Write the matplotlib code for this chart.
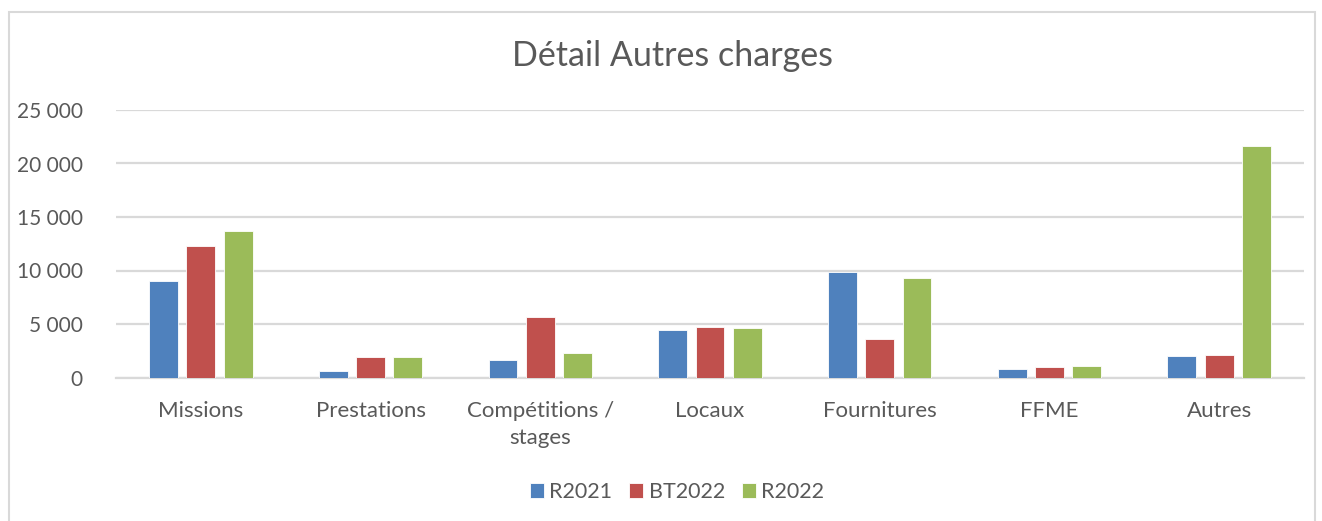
import matplotlib.pyplot as plt
import matplotlib.ticker as mticker
from matplotlib.patches import Rectangle
import numpy as np

# Données
categories = ["Missions", "Prestations", "Compétitions /\nstages", "Locaux",
              "Fournitures", "FFME", "Autres"]
r2021 = [9050, 640, 1640, 4440, 9890, 790, 2010]
bt2022 = [12290, 1890, 5680, 4750, 3570, 950, 2130]
r2022 = [13720, 1890, 2320, 4630, 9270, 1070, 21640]
series_names = ["R2021", "BT2022", "R2022"]
colors = ["#4f81bd", "#c0504d", "#9bbb59"]

W, H = 1322, 521
fig = plt.figure(figsize=(W / 100, H / 100), dpi=100)
plt.rcParams['font.family'] = ['Lato', 'DejaVu Sans']
txt = "#595959"

# cadre du graphique (bord gris clair)
fig.patches.append(Rectangle((9 / W, -0.05), (1315 - 9) / W, 1.05 - 12 / H,
                             transform=fig.transFigure, fill=False,
                             edgecolor="#d9d9d9", linewidth=1.5))

ax = fig.add_axes([116 / W, 1 - 377.5 / H, (1304 - 116) / W, (377.5 - 110) / H])

x = np.arange(len(categories))
width = 0.17
step = 0.22
for i, (vals, name, c) in enumerate(zip([r2021, bt2022, r2022], series_names, colors)):
    ax.bar(x + (i - 1) * step, vals, width, color=c, label=name,
           edgecolor="white", linewidth=0.6, zorder=3)

ax.set_xlim(-0.5, len(categories) - 0.5)
ax.set_ylim(0, 25000)
ax.yaxis.set_major_locator(mticker.MultipleLocator(5000))
ax.yaxis.set_major_formatter(mticker.FuncFormatter(lambda v, p: f"{int(v):,}".replace(",", " ")))
ax.grid(axis="y", color="#d9d9d9", linewidth=1.6, zorder=0)
for s in ["top", "right", "left"]:
    ax.spines[s].set_visible(False)
ax.spines["bottom"].set_color("#d9d9d9")
ax.spines["bottom"].set_linewidth(1.6)

ax.set_xticks(x)
ax.set_xticklabels(categories, fontsize=16, color=txt, va="top", linespacing=1.45)
ax.tick_params(axis="x", length=0, pad=17)
ax.tick_params(axis="y", length=0, pad=24, labelsize=15, labelcolor=txt)

fig.text(672 / W, 1 - 56 / H, "Détail Autres charges", ha="center", va="center",
         fontsize=24.5, color=txt)

fig.legend(loc="center", bbox_to_anchor=(677 / W, 1 - 492 / H), ncol=3, frameon=False,
           fontsize=15.5, labelcolor=txt, handlelength=0.65, handleheight=0.65,
           handletextpad=0.25, columnspacing=0.8)

fig.savefig("out.png", dpi=100)
